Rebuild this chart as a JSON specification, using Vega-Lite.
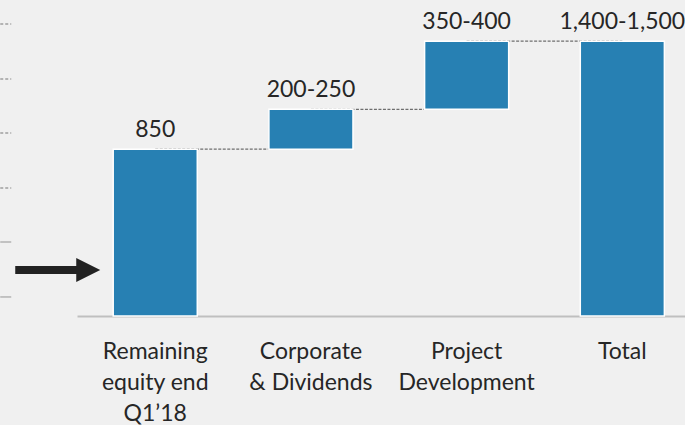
{
  "$schema": "https://vega.github.io/schema/vega-lite/v6.json",
  "width": 608,
  "height": 316,
  "autosize": {"type": "none"},
  "padding": {"left": 77, "top": 0, "right": 0, "bottom": 109},
  "background": "#f0f0f0",
  "config": {
    "view": {"stroke": null},
    "font": "Lato",
    "text": {"font": "Lato"}
  },
  "datasets": {
    "steps": [
      {"step": "Remaining|equity end|Q1’18", "next": "Corporate|& Dividends", "start": 0, "end": 850, "label": "850"},
      {"step": "Corporate|& Dividends", "next": "Project|Development", "start": 850, "end": 1053, "label": "200-250"},
      {"step": "Project|Development", "next": "Total", "start": 1053, "end": 1400, "label": "350-400"},
      {"step": "Total", "next": null, "start": 0, "end": 1400, "label": "1,400-1,500"}
    ],
    "arrow": [
      {"step": "Remaining|equity end|Q1’18", "value": 235}
    ],
    "dotted": [
      {"step": "Remaining|equity end|Q1’18", "value": 1488},
      {"step": "Remaining|equity end|Q1’18", "value": 1207},
      {"step": "Remaining|equity end|Q1’18", "value": 932},
      {"step": "Remaining|equity end|Q1’18", "value": 652}
    ],
    "solid": [
      {"step": "Remaining|equity end|Q1’18", "value": 377},
      {"step": "Remaining|equity end|Q1’18", "value": 97}
    ]
  },
  "encoding": {
    "x": {
      "field": "step",
      "type": "nominal",
      "sort": null,
      "scale": {
        "domain": ["Remaining|equity end|Q1’18", "Corporate|& Dividends", "Project|Development", "Total"],
        "paddingInner": 0.46,
        "paddingOuter": 0.1825,
        "align": 0.637
      },
      "axis": {
        "title": null,
        "labelAngle": 0,
        "labelExpr": "split(datum.label, '|')",
        "labelFont": "Lato",
        "labelFontSize": 23,
        "labelLineHeight": 31,
        "labelColor": "#262626",
        "labelPadding": 24,
        "labelLimit": 300,
        "ticks": false,
        "domainColor": "#bfbfbf",
        "domainWidth": 2,
        "grid": false
      }
    }
  },
  "layer": [
    {
      "data": {"name": "steps"},
      "transform": [{"filter": "datum.next != null"}],
      "mark": {"type": "rule", "color": "#6e6e6e", "strokeWidth": 1.3, "strokeDash": [3, 1.5]},
      "encoding": {
        "y": {"field": "end", "type": "quantitative", "scale": {"domain": [0, 1610], "nice": false, "zero": true}, "axis": null},
        "x2": {"field": "next"}
      }
    },
    {
      "data": {"name": "steps"},
      "mark": {"type": "bar", "color": "#2780b3", "stroke": "#ffffff", "strokeWidth": 1.5},
      "encoding": {
        "y": {"field": "start", "type": "quantitative"},
        "y2": {"field": "end"}
      }
    },
    {
      "data": {"name": "steps"},
      "mark": {"type": "text", "fontSize": 23, "color": "#262626", "baseline": "alphabetic", "dy": -12, "font": "Lato"},
      "encoding": {
        "y": {"field": "end", "type": "quantitative"},
        "text": {"field": "label"}
      }
    },
    {
      "data": {"name": "arrow"},
      "mark": {
        "type": "point",
        "shape": "M-140,-4L-79,-4L-79,-12L-55,0L-79,12L-79,4L-140,4Z",
        "size": 4,
        "filled": true,
        "color": "#222222",
        "opacity": 1
      },
      "encoding": {
        "y": {"field": "value", "type": "quantitative"}
      }
    },
    {
      "data": {"name": "dotted"},
      "mark": {
        "type": "point",
        "shape": "M-155,0L-144,0",
        "size": 4,
        "filled": false,
        "color": "#b3b3b3",
        "strokeWidth": 2,
        "strokeDash": [3, 2],
        "opacity": 1
      },
      "encoding": {
        "y": {"field": "value", "type": "quantitative"}
      }
    },
    {
      "data": {"name": "solid"},
      "mark": {
        "type": "point",
        "shape": "M-155,0L-144,0",
        "size": 4,
        "filled": false,
        "color": "#b3b3b3",
        "strokeWidth": 1.5,
        "opacity": 1
      },
      "encoding": {
        "y": {"field": "value", "type": "quantitative"}
      }
    }
  ]
}
